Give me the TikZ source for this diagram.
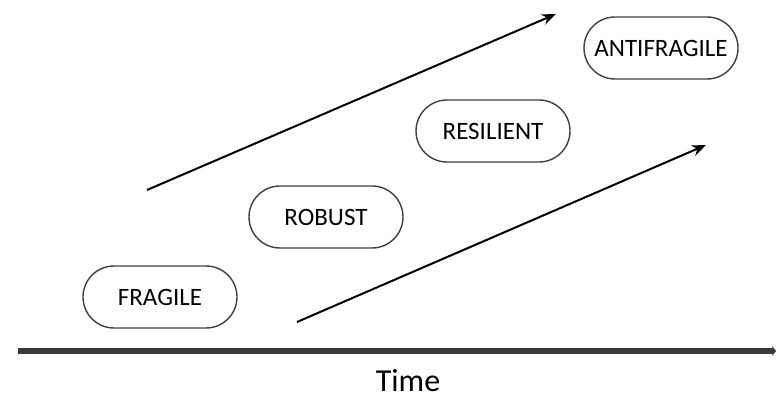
\documentclass[tikz,border=0pt]{standalone}
\usepackage{fontspec}
\setmainfont{Carlito}
\usepackage{xcolor}
\usetikzlibrary{positioning, arrows.meta}
\definecolor{axisgray}{HTML}{383B3E}
\tikzset{
    >={Stealth[length=14pt, width=11pt]}, % filled arrow heads
    stage/.style={draw=black!75, line width=1.4pt, rounded corners=31pt,
        minimum width=154pt, minimum height=62pt, inner sep=0pt,
        font=\fontsize{25}{25}\selectfont, text=black}, % the rounded boxes
    trend/.style={line width=2pt, ->},
}

\begin{document}
\begin{tikzpicture}[x=1pt, y=1pt, node distance=2cm, on grid]
    \useasboundingbox (0,0) rectangle (776,399);
    % Stages
    \node[stage] (fr) at (160,102) {FRAGILE};
    \node[stage] (rb) [above right=80pt and 166pt of fr] {ROBUST};
    \node[stage] (rs) [above right=86pt and 167pt of rb] {RESILIENT};
    \node[stage] (af) [above right=83pt and 168pt of rs] {ANTIFRAGILE};

    % Trend arrows
    \coordinate (ua) at (147,209);
    \coordinate (ub) at (556,385);
    \coordinate (la) at (297,77);
    \coordinate (lb) at (706,254);
    \draw[trend] (ua) -- (ub);
    \draw[trend] (la) -- (lb);

    % Time axis
    \coordinate (t0) at (18,48);
    \coordinate (t1) at (776,48);
    \draw[axisgray, line width=6pt, -{Stealth[length=4pt, width=10pt]}] (t0) -- (t1);
    \node[font=\fontsize{32}{32}\selectfont, inner sep=0pt] (time) at (408,18) {Time};
\end{tikzpicture}
\end{document}
